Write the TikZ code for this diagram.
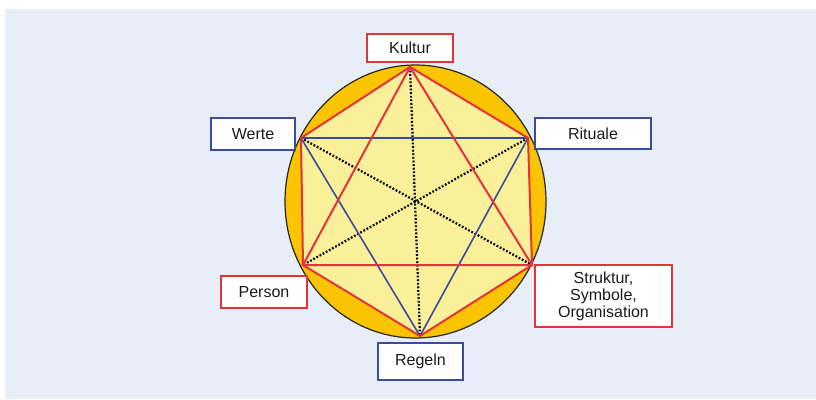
\documentclass[tikz,border=0pt]{standalone}
\usepackage{fontspec}
\setmainfont{Liberation Sans}
\definecolor{bgpanel}{HTML}{E8EEF7}
\definecolor{orng}{HTML}{FAC400}
\definecolor{lyel}{HTML}{FAF09A}
\definecolor{redc}{HTML}{E5333B}
\definecolor{bluec}{HTML}{3A4C9E}
\definecolor{txt}{HTML}{1A1A1A}
\tikzset{
  lbl/.style={draw, fill=white, line width=2.2pt, inner sep=0pt, align=center,
    text=txt, font=\fontsize{16}{17}\selectfont},
  redbox/.style={lbl, draw=redc},
  bluebox/.style={lbl, draw=bluec},
  redline/.style={draw=redc, line width=2pt},
  blueline/.style={draw=bluec, line width=1.6pt},
  dotline/.style={draw=black, line width=2.2pt, dash pattern=on 1.8pt off 1.8pt}
}
\begin{document}
\begin{tikzpicture}[x=1pt,y=-1pt]
\useasboundingbox (0,0) rectangle (816,399);
\fill[white] (0,0) rectangle (816,399);
\fill[bgpanel] (5,9) rectangle (816,399);
% circle
\draw[fill=orng, draw=black!85, line width=1.2pt] (415.5,201.5) ellipse [x radius=130.5, y radius=136.5];
% vertices
\coordinate (vK) at (410,67);
\coordinate (vRi) at (528,138);
\coordinate (vS) at (532,265);
\coordinate (vRe) at (420,336);
\coordinate (vP) at (303,265);
\coordinate (vW) at (301,138);
% hexagon fill
\fill[lyel] (vK) -- (vRi) -- (vS) -- (vRe) -- (vP) -- (vW) -- cycle;
% dotted diagonals
\draw[dotline] (vK) -- (vRe);
\draw[dotline] (vW) -- (vS);
\draw[dotline] (vRi) -- (vP);
% blue triangle
\draw[blueline] (vW) -- (vRi) -- (vRe) -- cycle;
% red triangle
\draw[redline] (vK) -- (vS) -- (vP) -- cycle;
% red hexagon
\draw[redline, line join=round] (vK) -- (vRi) -- (vS) -- (vRe) -- (vP) -- (vW) -- cycle;
% labels
\node[redbox, minimum width=86pt, minimum height=28pt] (kultur) at (410,48) {Kultur};
\node[bluebox, minimum width=84pt, minimum height=32pt] (werte) at (253,134) {Werte};
\node[bluebox, minimum width=116pt, minimum height=31pt] (rituale) at (593,133.5) {Rituale};
\node[redbox, minimum width=86pt, minimum height=32pt] (person) at (264,292) {Person};
\node[redbox, minimum width=137pt, minimum height=62pt] (struktur) at (603.5,296) {Struktur,\\Symbole,\\Organisation};
\node[bluebox, minimum width=85pt, minimum height=37pt] (regeln) at (420.5,361.5) {Regeln};
\end{tikzpicture}
\end{document}
